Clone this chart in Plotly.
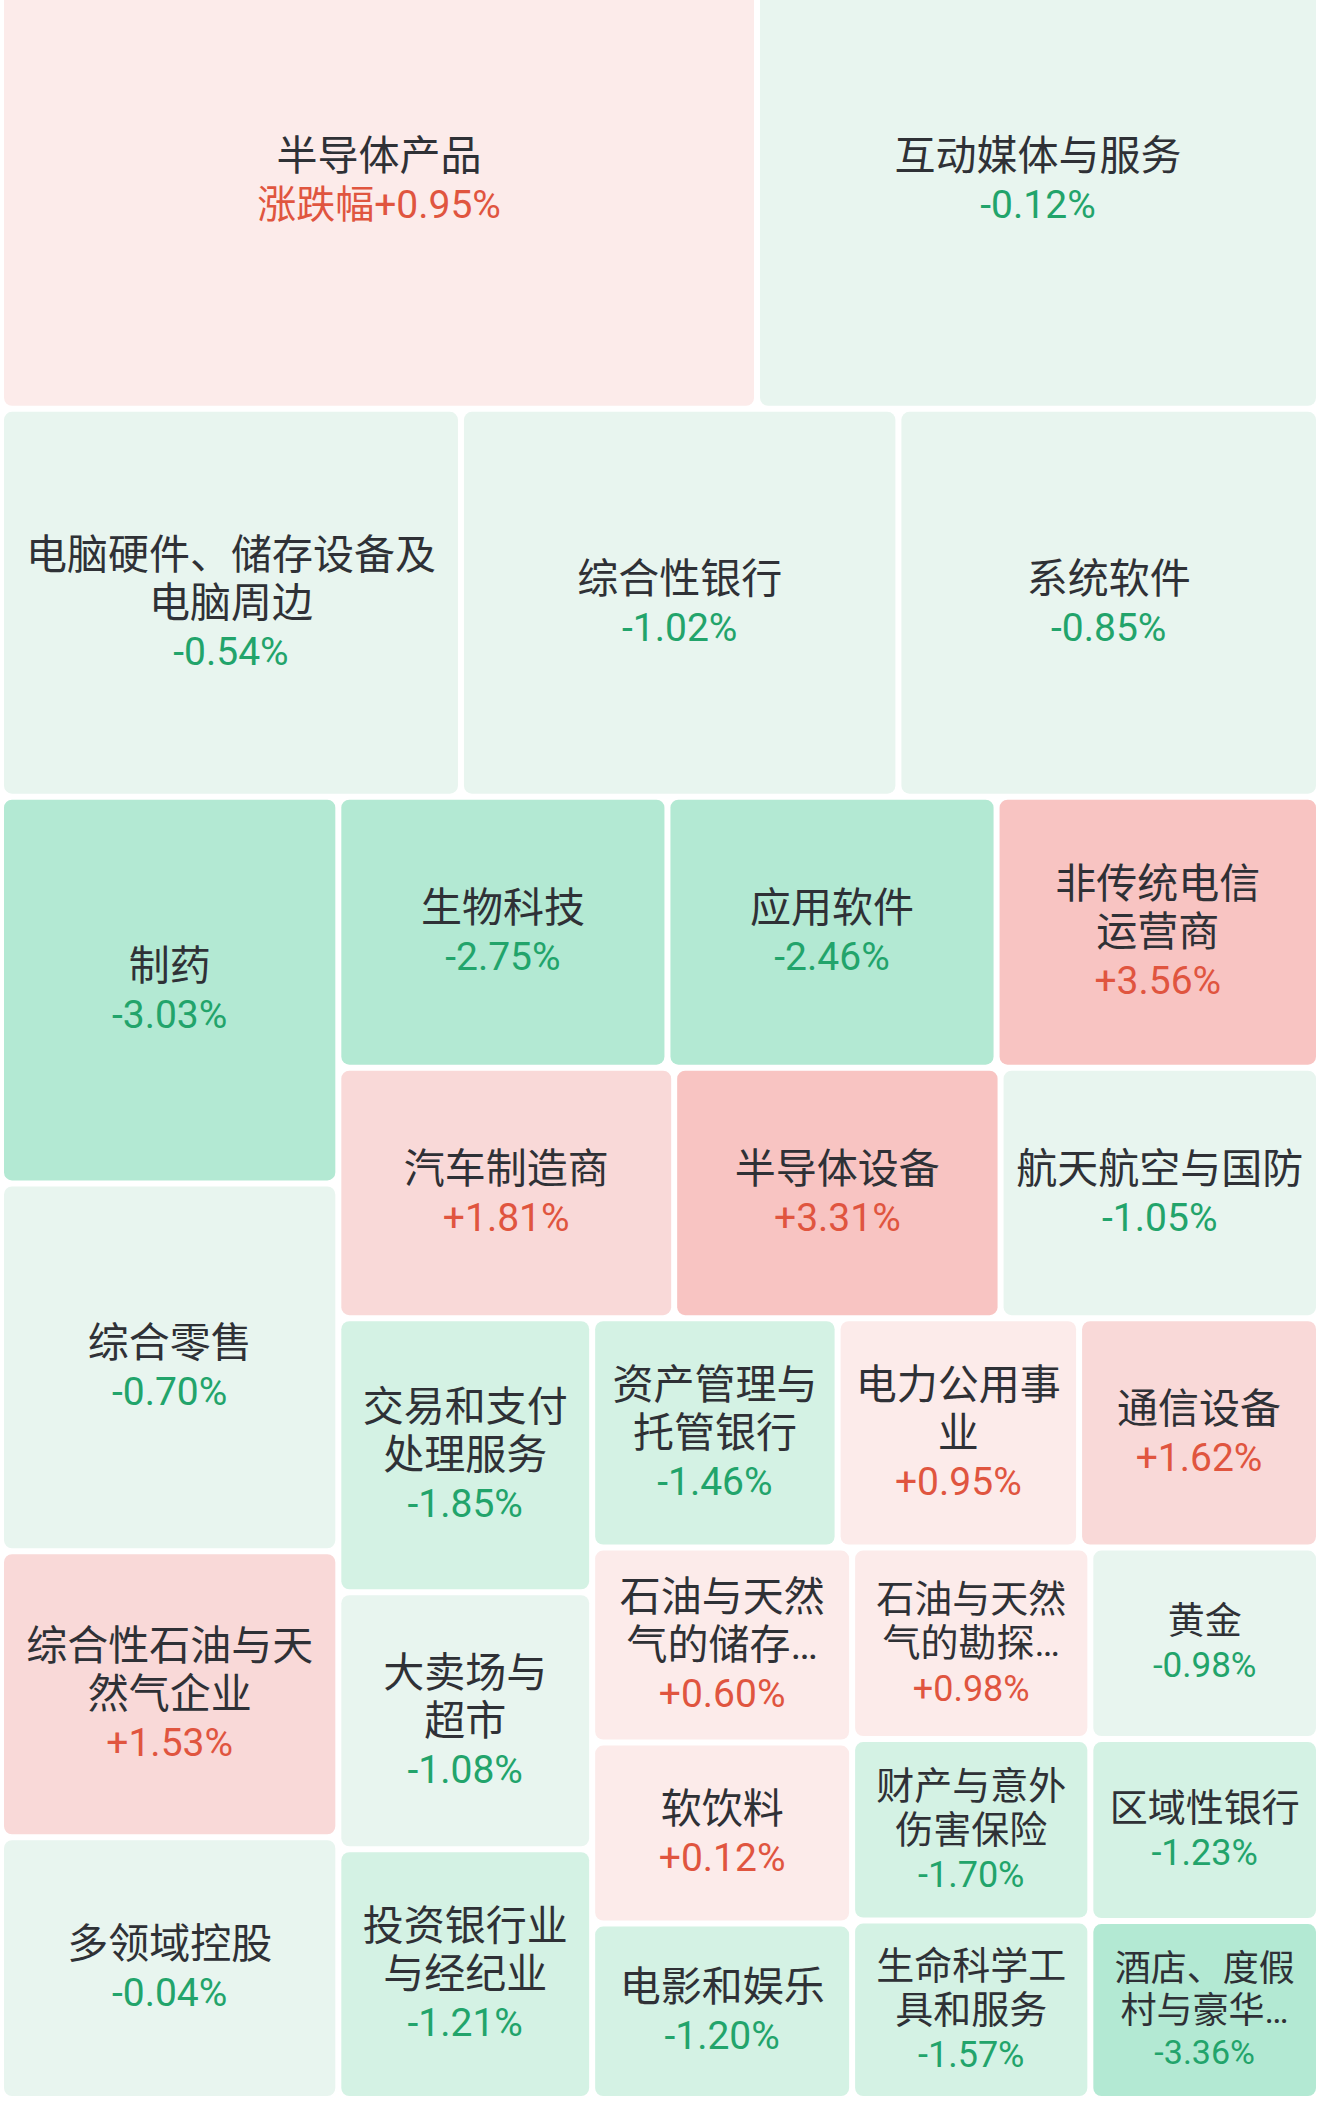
import plotly.graph_objects as go

# ---- data ----
sectors = [
    "半导体产品", "互动媒体与服务",
    "电脑硬件、储存设备及电脑周边", "综合性银行", "系统软件",
    "制药", "综合零售", "综合性石油与天然气企业", "多领域控股",
    "生物科技", "应用软件", "非传统电信运营商",
    "汽车制造商", "半导体设备", "航天航空与国防",
    "交易和支付处理服务", "大卖场与超市", "投资银行业与经纪业",
    "资产管理与托管银行", "电力公用事业", "通信设备",
    "石油与天然气的储存与运输", "软饮料", "电影和娱乐",
    "石油与天然气的勘探与生产", "财产与意外伤害保险", "生命科学工具和服务",
    "黄金", "区域性银行", "酒店、度假村与豪华游轮",
]
tile_labels = [
    "半导体产品", "互动媒体与服务",
    "电脑硬件、储存设备及<br>电脑周边", "综合性银行", "系统软件",
    "制药", "综合零售", "综合性石油与天<br>然气企业", "多领域控股",
    "生物科技", "应用软件", "非传统电信<br>运营商",
    "汽车制造商", "半导体设备", "航天航空与国防",
    "交易和支付<br>处理服务", "大卖场与<br>超市", "投资银行业<br>与经纪业",
    "资产管理与<br>托管银行", "电力公用事<br>业", "通信设备",
    "石油与天然<br>气的储存…", "软饮料", "电影和娱乐",
    "石油与天然<br>气的勘探…", "财产与意外<br>伤害保险", "生命科学工<br>具和服务",
    "黄金", "区域性银行", "酒店、度假<br>村与豪华…",
]
changes = [
    0.95, -0.12,
    -0.54, -1.02, -0.85,
    -3.03, -0.70, 1.53, -0.04,
    -2.75, -2.46, 3.56,
    1.81, 3.31, -1.05,
    -1.85, -1.08, -1.21,
    -1.46, 0.95, 1.62,
    0.60, 0.12, -1.20,
    0.98, -1.70, -1.57,
    -0.98, -1.23, -3.36,
]
weights = [
    190.1, 141.3,
    98.2, 93.4, 89.8,
    71.8, 68.3, 53.1, 48.6,
    49.1, 49.1, 48.1,
    46.3, 45.0, 43.9,
    38.3, 35.9, 34.9,
    31.0, 30.5, 30.3,
    27.9, 25.9, 25.1,
    25.1, 23.8, 23.4,
    24.1, 22.9, 22.4,
]
first_prefix = "涨跌幅"

# layout grouping (indices into the lists above)
groups = ("root", [
    ("row1", [0, 1]),
    ("row2", [2, 3, 4]),
    ("bottom", [
        ("colA", [5, 6, 7, 8]),
        ("rest1", [
            ("r1a", [9, 10, 11]),
            ("r1b", [12, 13, 14]),
            ("rest2", [
                ("colB", [15, 16, 17]),
                ("rest3", [
                    ("r3a", [18, 19, 20]),
                    ("rest4", [
                        ("c1", [21, 22, 23]),
                        ("c2", [24, 25, 26]),
                        ("c3", [27, 28, 29]),
                    ]),
                ]),
            ]),
        ]),
    ]),
])

# ---- style ----
RED_TXT = "#e0553f"
GREEN_TXT = "#22a46b"
LABEL_TXT = "#2f3136"
GLYPH_PX = 41
GLYPH_OVERRIDE = {
    "石油与天然气的勘探与生产": 38, "财产与意外伤害保险": 38, "生命科学工具和服务": 38,
    "黄金": 37, "区域性银行": 38, "酒店、度假村与豪华游轮": 36,
}


def tile_color(v):
    if v >= 3:
        return "#f8c4c2"
    if v >= 1.5:
        return "#f9d9d8"
    if v > 0:
        return "#fcebea"
    if v > -1.1:
        return "#e8f5ef"
    if v > -2.4:
        return "#d4f2e4"
    return "#b3e9d3"


ids, labels, parents, values, texts, colors, base_sizes = [], [], [], [], [], [], []


def add(node, parent):
    if isinstance(node, int):
        i = node
        v = changes[i]
        pct = f"{v:+.2f}%"
        if i == 0:
            pct = first_prefix + pct
        col = RED_TXT if v > 0 else GREEN_TXT
        g = GLYPH_OVERRIDE.get(sectors[i], GLYPH_PX)
        ids.append(sectors[i])
        labels.append(sectors[i])
        parents.append(parent)
        values.append(weights[i])
        lines = tile_labels[i].split("<br>")
        body = "<br>".join(f"<span style='font-size:{g}px'>{ln}</span>" for ln in lines)
        texts.append(f"{body}<br><span style='font-size:{g - 2}px;color:{col}'>{pct}</span>")
        colors.append(tile_color(v))
        base_sizes.append(round(g * 0.9))
        return
    name, children = node
    ids.append(name)
    labels.append(name)
    parents.append(parent)
    values.append(0)
    texts.append("")
    colors.append("rgba(0,0,0,0)")
    base_sizes.append(37)
    for c in children:
        add(c, name)


add(groups, "")

fig = go.Figure(go.Treemap(
    ids=ids, labels=labels, parents=parents, values=values,
    branchvalues="remainder", sort=False,
    text=texts, textinfo="text", textposition="middle center",
    textfont=dict(family="Roboto, Noto Sans CJK SC, sans-serif", size=base_sizes, color=LABEL_TXT),
    tiling=dict(packing="dice-slice", pad=6),
    marker=dict(colors=colors, line=dict(width=0), pad=dict(t=0, l=0, r=0, b=0), cornerradius=8),
    pathbar=dict(visible=False),
    hoverinfo="skip",
))
fig.update_layout(
    width=1320, height=2163,
    margin=dict(l=4, r=4, t=0, b=22),
    paper_bgcolor="white",
)
# the reference screenshot crops the top of the first row
fig.write_html(
    "out.html",
    config={"displayModeBar": False},
    post_script="document.body.style.margin='0px';document.body.style.marginTop='-45px';",
)
